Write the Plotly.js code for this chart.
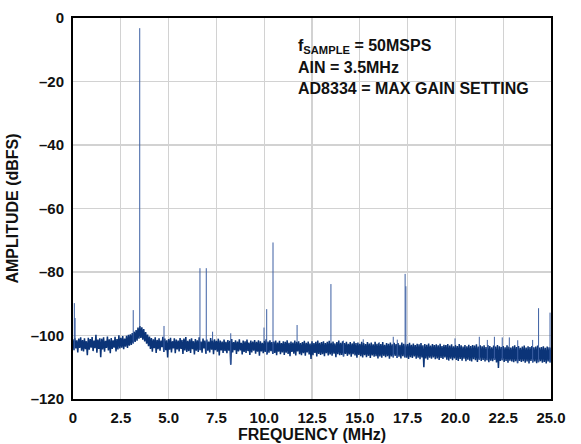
<!DOCTYPE html>
<html>
<head>
<meta charset="utf-8">
<script src="https://cdn.plot.ly/plotly-3.0.1.min.js"></script>
<style>html,body{margin:0;padding:0;background:#fff;}#chart{width:581px;height:444px;}</style>
</head>
<body>
<div id="chart"></div>
<script>
// FFT noise floor: one value every 0.05 MHz from 0 to 25 MHz (dBFS)
const noiseStartMHz = 0;
const noiseStepMHz = 0.05;
const noiseDb = [
-101.2,-104.6,-100.8,-104.1,-101.5,-105.3,-101.0,-103.9,-100.6,-104.8,
-101.4,-105.0,-100.9,-104.3,-101.8,-106.2,-100.7,-104.5,-101.1,-103.8,
-100.5,-104.9,-101.6,-104.0,-99.8,-105.4,-101.3,-104.2,-100.9,-106.8,
-101.0,-104.4,-100.6,-105.1,-101.7,-103.9,-100.3,-104.7,-101.2,-105.6,
-100.8,-104.2,-101.5,-103.8,-100.4,-105.0,-101.1,-104.4,-99.9,-104.1,
-100.7,-103.8,-100.2,-104.3,-101.0,-103.5,-100.1,-103.9,-99.8,-103.2,
-99.6,-103.0,-99.2,-102.5,-98.8,-102.0,-98.3,-101.6,-97.5,-101.0,
-97.0,-100.8,-97.4,-101.3,-98.0,-101.9,-98.9,-102.6,-99.7,-103.4,
-100.3,-104.2,-100.8,-105.1,-101.2,-104.0,-100.6,-105.5,-101.4,-104.3,
-100.9,-104.8,-101.6,-103.7,-100.4,-105.2,-101.0,-104.6,-101.5,-106.9,
-101.1,-104.5,-100.7,-105.3,-101.8,-104.1,-100.9,-105.6,-101.3,-104.4,
-101.6,-105.0,-100.8,-104.2,-101.4,-105.8,-101.0,-104.7,-100.5,-105.2,
-101.7,-104.9,-101.2,-105.5,-100.9,-104.3,-101.8,-106.0,-101.1,-104.8,
-101.5,-105.2,-100.6,-104.6,-101.9,-105.4,-101.0,-104.1,-101.6,-105.7,
-101.3,-104.8,-101.9,-105.3,-100.8,-104.5,-101.5,-105.9,-101.2,-104.6,
-101.7,-105.1,-101.0,-106.3,-101.6,-104.7,-101.9,-105.5,-101.3,-104.9,
-102.0,-105.6,-101.4,-104.8,-101.7,-109.2,-101.1,-105.3,-102.1,-104.6,
-101.5,-105.8,-101.9,-105.0,-101.2,-104.7,-102.3,-106.0,-101.6,-105.2,
-101.8,-105.5,-101.3,-104.9,-102.2,-106.1,-101.6,-105.3,-101.9,-104.8,
-101.4,-105.7,-102.0,-105.1,-101.5,-106.4,-101.8,-105.0,-102.3,-105.6,
-101.7,-105.2,-101.2,-106.0,-101.9,-105.4,-101.5,-104.9,-102.1,-105.8,
-101.9,-105.5,-101.6,-106.2,-102.2,-105.1,-101.7,-105.9,-102.4,-105.3,
-101.8,-106.1,-102.0,-105.4,-101.5,-105.8,-102.3,-106.5,-101.9,-105.2,
-102.2,-105.7,-101.6,-106.3,-102.0,-105.0,-101.8,-105.9,-102.4,-106.2,
-102.1,-105.6,-101.7,-106.4,-102.3,-105.3,-101.9,-106.0,-102.5,-107.4,
-101.8,-106.2,-102.4,-105.5,-102.0,-106.6,-101.6,-105.8,-102.3,-106.1,
-102.1,-105.9,-101.8,-106.5,-102.4,-105.6,-102.0,-106.3,-101.7,-106.0,
-102.2,-106.4,-101.9,-105.7,-102.5,-106.8,-102.1,-105.9,-101.6,-106.2,
-102.3,-106.1,-101.8,-106.6,-102.4,-105.8,-102.0,-106.4,-102.6,-106.0,
-102.1,-106.7,-102.5,-105.9,-101.9,-106.3,-102.4,-107.0,-102.2,-106.1,
-102.6,-106.5,-102.0,-106.9,-102.4,-106.2,-102.7,-106.8,-102.1,-106.4,
-102.5,-107.1,-102.2,-106.3,-102.8,-106.7,-102.0,-106.5,-102.6,-107.2,
-102.3,-106.6,-102.7,-107.0,-102.1,-106.4,-102.9,-106.8,-102.4,-106.5,
-102.6,-107.3,-102.2,-106.6,-102.8,-106.9,-102.3,-106.4,-102.7,-107.1,
-102.4,-106.7,-102.9,-107.2,-102.2,-106.5,-102.6,-106.9,-102.8,-107.0,
-102.7,-107.4,-102.3,-106.8,-102.9,-107.1,-102.5,-106.6,-103.0,-107.3,
-102.6,-107.0,-102.8,-107.5,-102.4,-106.9,-103.1,-110.0,-102.7,-107.2,
-102.9,-107.6,-102.5,-107.0,-103.2,-107.3,-102.7,-106.9,-103.0,-107.5,
-102.8,-107.2,-103.1,-107.7,-102.6,-107.1,-103.3,-107.4,-102.9,-106.9,
-103.0,-107.6,-102.7,-107.9,-103.2,-107.3,-102.8,-107.8,-103.4,-107.2,
-102.9,-107.7,-103.3,-108.0,-102.7,-107.4,-103.1,-107.9,-103.5,-107.3,
-103.0,-108.1,-103.4,-107.6,-102.9,-107.9,-103.3,-108.2,-103.0,-107.5,
-103.2,-107.8,-102.8,-108.3,-103.5,-107.6,-103.1,-108.0,-103.4,-107.7,
-103.1,-108.2,-103.6,-107.8,-103.0,-108.4,-103.3,-107.9,-103.7,-108.1,
-103.2,-107.7,-103.5,-108.5,-103.0,-110.2,-103.4,-108.0,-103.6,-107.8,
-103.3,-108.3,-103.7,-108.0,-103.1,-108.6,-103.5,-107.9,-103.8,-108.2,
-103.4,-108.4,-103.1,-108.1,-103.6,-108.7,-103.3,-108.0,-103.9,-108.3,
-103.5,-108.1,-103.2,-108.6,-103.8,-108.2,-103.4,-108.8,-103.6,-108.0,
-103.3,-108.5,-103.7,-108.2,-103.5,-108.7,-103.2,-108.4,-103.8,-108.1,
-103.6,-108.6,-103.4,-108.3,-103.9,-108.8,-103.5,-108.2,-103.7,-108.5,
-103.8
];

// Tone, harmonics and spurs (MHz, dBFS)
const spikeMHz = [0.07, 0.11, 3.15, 3.49, 4.76, 6.64, 6.97, 7.30, 8.25, 9.99, 10.13, 10.46, 11.72,
  13.49, 14.14, 15.18, 16.02, 16.75, 16.96, 17.37, 17.41, 19.98, 21.25, 21.67, 22.04, 22.45,
  22.82, 23.26, 24.04, 24.35, 24.95];
const spikeDb = [-89.8, -94.5, -92.0, -3.2, -97.0, -78.8, -78.8, -98.8, -99.3, -97.5, -91.7, -70.7, -96.7,
  -83.8, -101.6, -101.2, -102.1, -100.4, -101.3, -80.6, -84.5, -100.9, -100.4, -101.4, -100.4, -100.6,
  -100.6, -101.5, -101.4, -91.4, -92.8];

const xTickVals = [0, 2.5, 5, 7.5, 10, 12.5, 15, 17.5, 20, 22.5, 25];
const xTickText = ['0', '2.5', '5.0', '7.5', '10.0', '12.5', '15.0', '17.5', '20.0', '22.5', '25.0'];
const yTickVals = [-120, -100, -80, -60, -40, -20, 0];
const yTickText = ['\u2013120', '\u2013100', '\u201380', '\u201360', '\u201340', '\u201320', '0'];

const floorX = noiseDb.map((v, i) => noiseStartMHz + i * noiseStepMHz);

const floorTrace = {
  x: floorX, y: noiseDb,
  type: 'scatter', mode: 'lines',
  line: {color: '#0b3478', width: 1.5},
  hoverinfo: 'skip'
};

// each spur: a thin vertical line from the local floor to its peak
const sx = [], sy = [];
spikeMHz.forEach((f, i) => {
  const base = noiseDb[Math.min(noiseDb.length - 1, Math.round((f - noiseStartMHz) / noiseStepMHz))];
  sx.push(f, f, null);
  sy.push(base, spikeDb[i], null);
});
const spikeTrace = {
  x: sx, y: sy,
  type: 'scatter', mode: 'lines',
  line: {color: '#3c5fa3', width: 1},
  connectgaps: false,
  hoverinfo: 'skip'
};

const tickFont = {family: 'Liberation Sans, Arial, sans-serif', size: 15, color: '#111', weight: 'bold'};
const titleFont = {family: 'Liberation Sans, Arial, sans-serif', size: 16, color: '#111', weight: 'bold'};
const noteFont = {family: 'Liberation Sans, Arial, sans-serif', size: 16, color: '#111', weight: 'bold'};

const layout = {
  width: 581, height: 444,
  margin: {l: 73, r: 30, t: 18, b: 45},
  paper_bgcolor: '#fff', plot_bgcolor: '#fff',
  showlegend: false,
  font: tickFont,
  xaxis: {
    range: [0, 25], tickvals: xTickVals, ticktext: xTickText,
    showgrid: true, gridcolor: '#d2d2d2', gridwidth: 1.3,
    showline: true, mirror: true, linecolor: '#000', linewidth: 2,
    zeroline: false, ticks: '', ticklabelstandoff: 4,
    tickfont: tickFont,
    title: {text: 'FREQUENCY (MHz)', font: titleFont, standoff: 4}
  },
  yaxis: {
    range: [-120, 0], tickvals: yTickVals, ticktext: yTickText,
    showgrid: true, gridcolor: '#d2d2d2', gridwidth: 1.3,
    showline: true, mirror: true, linecolor: '#000', linewidth: 2,
    zeroline: false, ticks: '', ticklabelstandoff: 4,
    tickfont: tickFont,
    title: {text: 'AMPLITUDE (dBFS)', font: titleFont, standoff: 8}
  },
  shapes: [{
    type: 'rect', xref: 'paper', yref: 'paper', layer: 'between',
    x0: 0.4498, x1: 0.9644, y0: 0.7769, y1: 0.9685,
    fillcolor: '#fff', line: {width: 0}
  }],
  annotations: [
    {xref: 'paper', yref: 'paper', x: 0.466, y: 0.925, xanchor: 'left', yanchor: 'middle',
     text: 'f<sub>SAMPLE</sub> = 50MSPS', showarrow: false, font: noteFont, align: 'left'},
    {xref: 'paper', yref: 'paper', x: 0.466, y: 0.871, xanchor: 'left', yanchor: 'middle',
     text: 'AIN = 3.5MHz', showarrow: false, font: noteFont, align: 'left'},
    {xref: 'paper', yref: 'paper', x: 0.466, y: 0.814, xanchor: 'left', yanchor: 'middle',
     text: 'AD8334 = MAX GAIN SETTING', showarrow: false, font: noteFont, align: 'left'}
  ]
};

Plotly.newPlot('chart', [floorTrace, spikeTrace], layout, {displayModeBar: false, staticPlot: true});
</script>
</body>
</html>
